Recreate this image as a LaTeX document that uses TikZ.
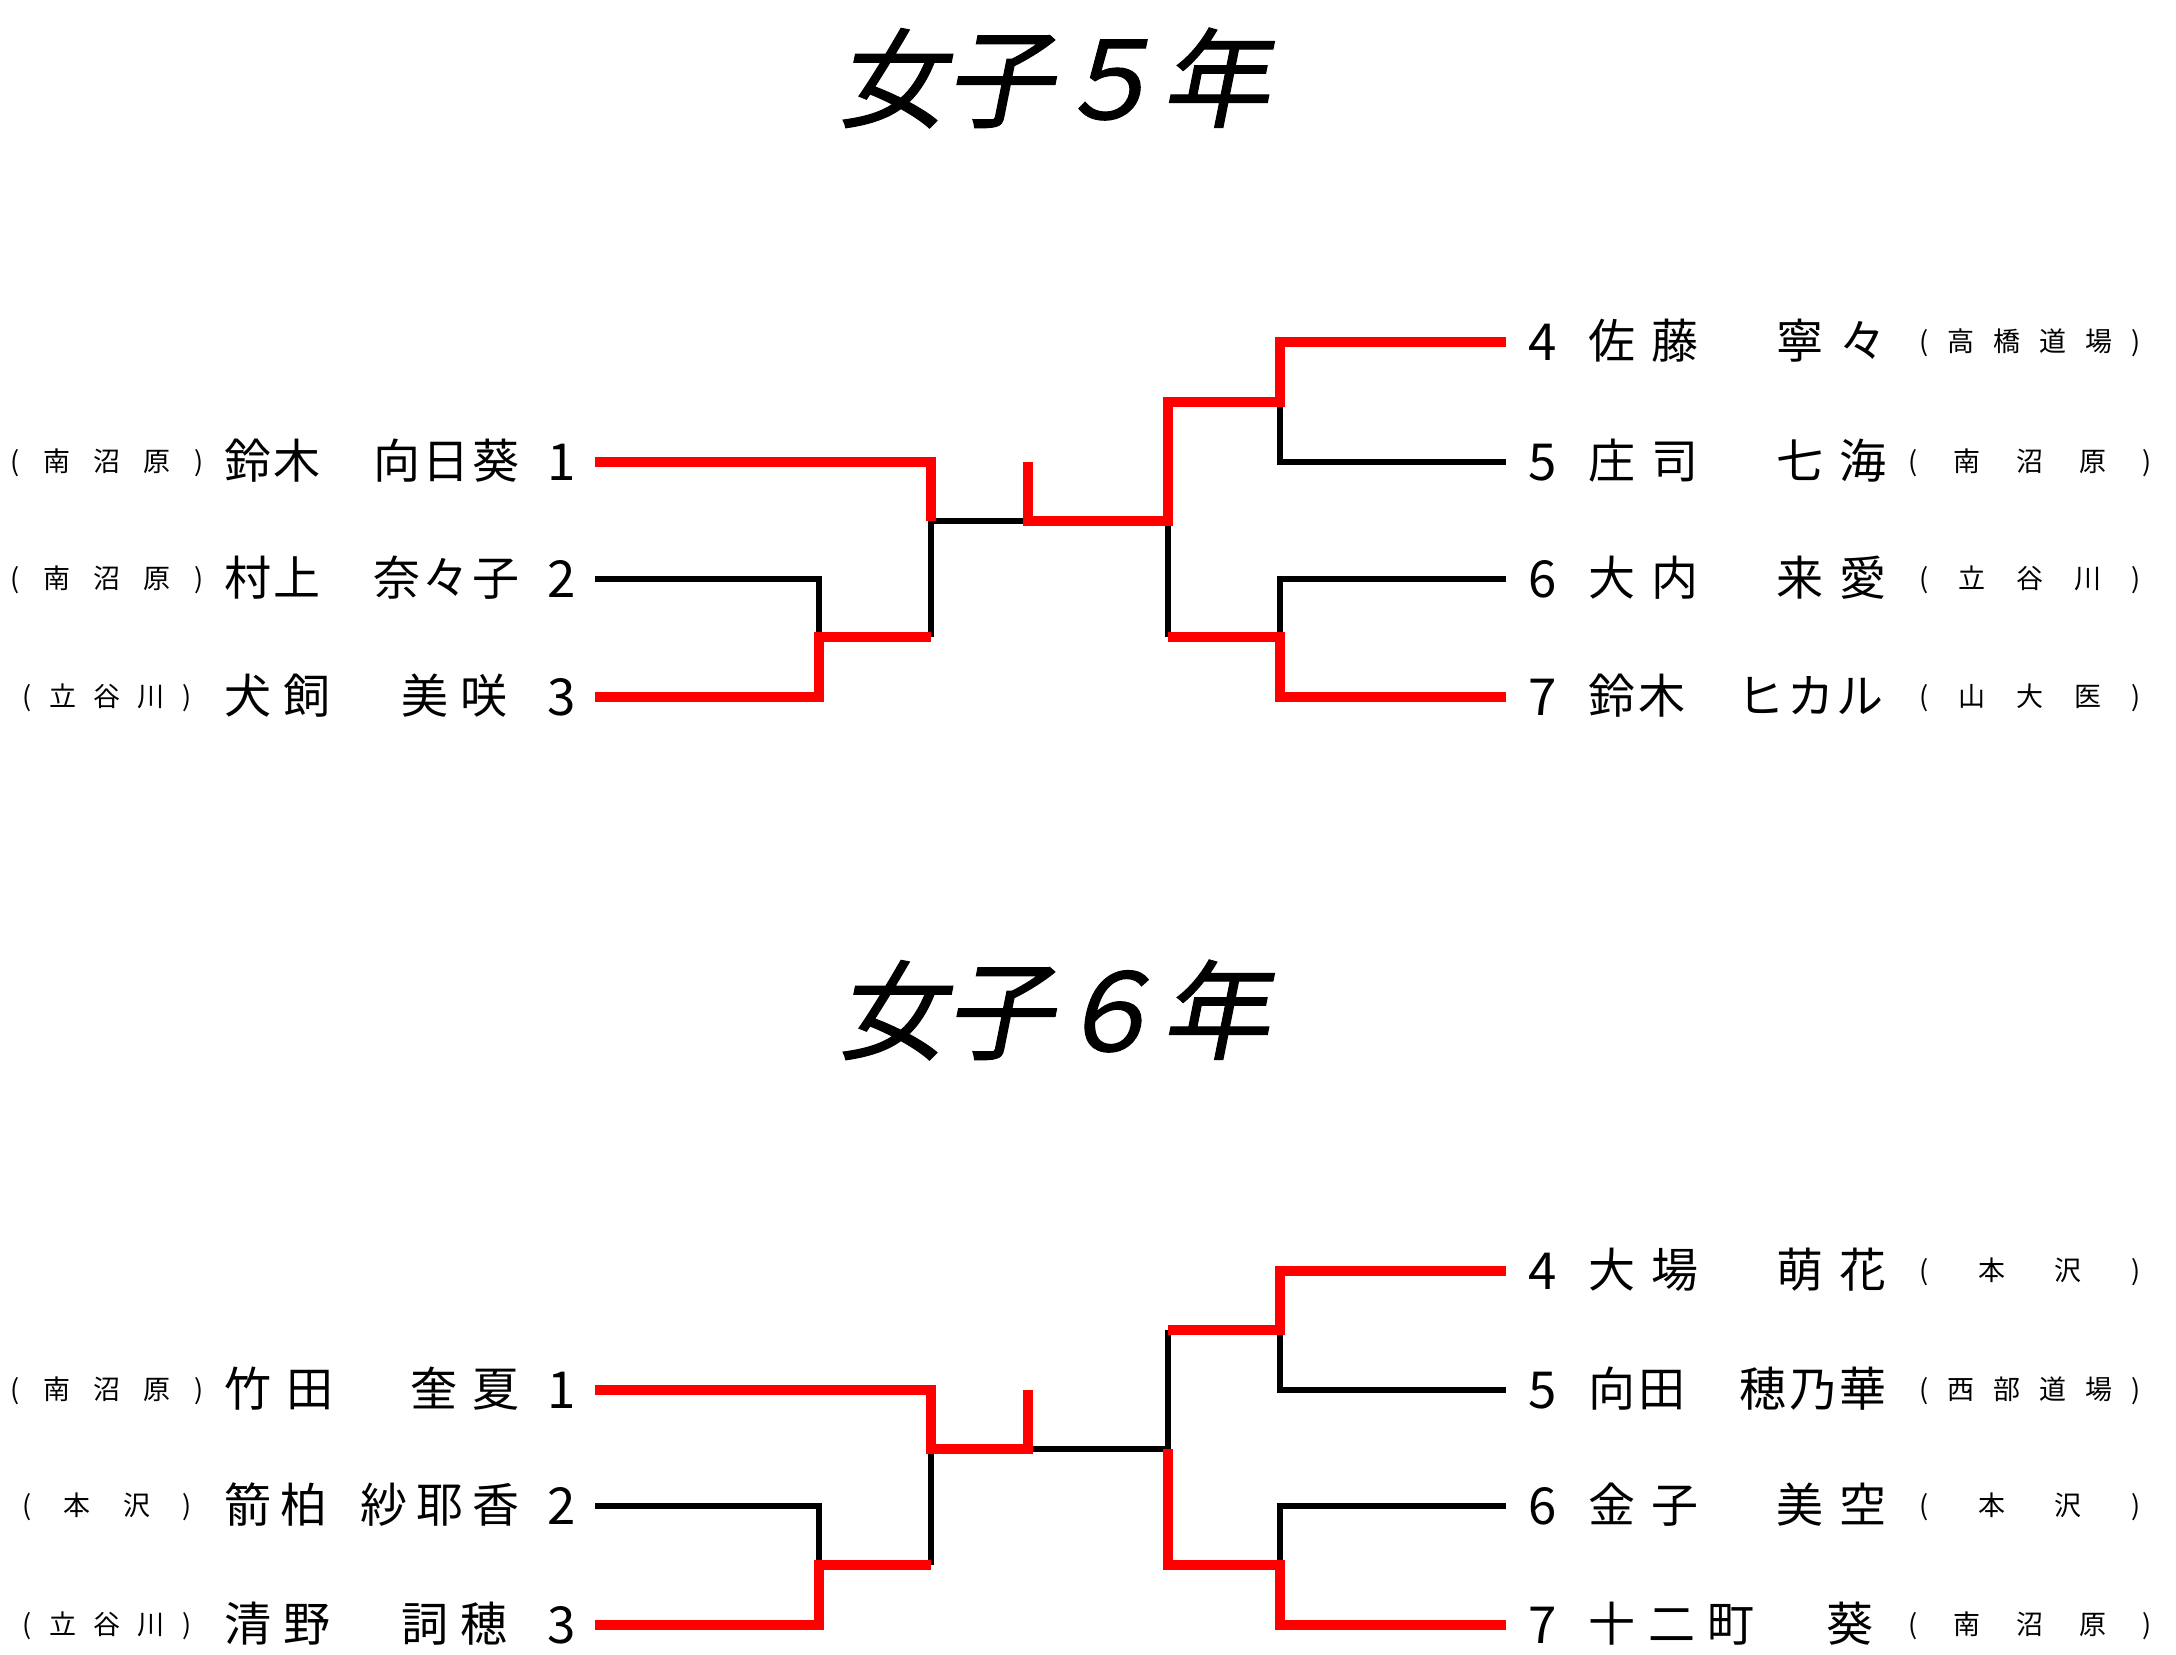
\documentclass[tikz,border=0pt]{standalone}
\usepackage{fontspec}
\setmainfont{Noto Sans CJK JP}
\newfontfamily\ttlfont[FakeSlant=0.2,FakeBold=1]{Noto Sans CJK JP}
\newlength\px
\setlength\px{0.5pt}
\newcommand\namefont{\fontsize{23.5}{24}\selectfont}
\newcommand\numfont{\fontsize{25.5}{26}\selectfont}
\newcommand\schfont{\fontsize{13.5}{14}\selectfont}
% spread the characters evenly over a given width
\newcommand\spread[2]{\makebox[#1][s]{\spaceskip=0pt plus 1fil\relax #2}}

\begin{document}
\begin{tikzpicture}[x=0.5pt, y=-0.5pt,
    win/.style={red, line width=4.75pt},
    lose/.style={black, line width=2.6pt},
    ttl/.style={font=\ttlfont\fontsize{54}{54}\selectfont, inner sep=0pt},
    pname/.style={font=\namefont, inner sep=0pt, text height=18.8pt, text depth=1.9pt},
    pnum/.style={font=\numfont, inner sep=0pt, text height=18.8pt, text depth=0pt},
    pschool/.style={font=\schfont, inner sep=0pt, text height=10.8pt, text depth=1.1pt}]
    \fill[white] (0,0) rectangle (2176,1655);
    \useasboundingbox (0,0) rectangle (2176,1655);

    % titles
    \node[ttl] (t5) at (1053,78) {女子５年};
    \node[ttl] (t6) at (1053,1010) {女子６年};

    % 5年: left entries
    \foreach \i/\y/\sch/\sw/\nm in {
        1/462/{( 南 沼 原 )}/193/{鈴 木 　 向 日 葵},
        2/579/{( 南 沼 原 )}/193/{村 上 　 奈 々 子},
        3/697/{( 立 谷 川 )}/169/{犬 飼 　 美 咲}
    } {
        \node[pschool] (a-s\i) at (107,\y) {\spread{\sw\px}{\sch}};
        \node[pname, anchor=west] (a-n\i) at (224,\y) {\spread{295\px}{\nm}};
        \node[pnum] (a-k\i) at (562,\y) {\i};
    }
    % 5年: right entries
    \foreach \i/\y/\sch/\sw/\nm in {
        4/342/{( 高 橋 道 場 )}/222/{佐 藤 　 寧 々},
        5/462/{( 南 沼 原 )}/244/{庄 司 　 七 海},
        6/579/{( 立 谷 川 )}/222/{大 内 　 来 愛},
        7/697/{( 山 大 医 )}/222/{鈴 木 　 ヒ カ ル}
    } {
        \node[pnum] (a-k\i) at (1543,\y) {\i};
        \node[pname, anchor=west] (a-n\i) at (1588,\y) {\spread{298\px}{\nm}};
        \node[pschool] (a-s\i) at (2030,\y) {\spread{\sw\px}{\sch}};
    }

    % 5年: bracket points
    \coordinate (a1) at (595,462);
    \coordinate (a2) at (595,579);
    \coordinate (a3) at (595,697);
    \coordinate (a4) at (1506,342);
    \coordinate (a5) at (1506,462);
    \coordinate (a6) at (1506,579);
    \coordinate (a7) at (1506,697);
    \coordinate (aL) at (819,637);
    \coordinate (aM) at (931,521);
    \coordinate (aS) at (1028,462);
    \coordinate (aC) at (1028,521);
    \coordinate (aN) at (1168,521);
    \coordinate (aU) at (1280,402);
    \coordinate (aD) at (1280,637);

    % 5年: lines
    \draw[lose] (a2) -| (aL);
    \draw[lose] (aL -| aM) -- (aM) -- (aC);
    \draw[lose] (aU) |- (a5);
    \draw[lose] (aN) -- (aN |- aD);
    \draw[lose] (aD) |- (a6);
    \draw[win] (a1) -| (aM);
    \draw[win] (a3) -| (aL) -- (aL -| aM);
    \draw[win] (aS) -- (aC) -- (aN) |- (aU) |- (a4);
    \draw[win] (aN |- aD) -- (aD) |- (a7);

    % 6年: left entries
    \foreach \i/\y/\sch/\sw/\nm in {
        1/1390/{( 南 沼 原 )}/193/{竹 田 　 奎 夏},
        2/1506/{( 本 沢 )}/169/{箭 柏 \hspace{0.5em}紗 耶 香},
        3/1625/{( 立 谷 川 )}/169/{清 野 　 詞 穂}
    } {
        \node[pschool] (b-s\i) at (107,\y) {\spread{\sw\px}{\sch}};
        \node[pname, anchor=west] (b-n\i) at (224,\y) {\spread{295\px}{\nm}};
        \node[pnum] (b-k\i) at (562,\y) {\i};
    }
    % 6年: right entries
    \foreach \i/\y/\sch/\sw/\nm in {
        4/1271/{( 本 沢 )}/222/{大 場 　 萌 花},
        5/1390/{( 西 部 道 場 )}/222/{向 田 　 穂 乃 華},
        6/1506/{( 本 沢 )}/222/{金 子 　 美 空},
        7/1625/{( 南 沼 原 )}/244/{十 二 町 　 葵}
    } {
        \node[pnum] (b-k\i) at (1543,\y) {\i};
        \node[pname, anchor=west] (b-n\i) at (1588,\y) {\spread{298\px}{\nm}};
        \node[pschool] (b-s\i) at (2030,\y) {\spread{\sw\px}{\sch}};
    }

    % 6年: bracket points
    \coordinate (b1) at (595,1390);
    \coordinate (b2) at (595,1506);
    \coordinate (b3) at (595,1625);
    \coordinate (b4) at (1506,1271);
    \coordinate (b5) at (1506,1390);
    \coordinate (b6) at (1506,1506);
    \coordinate (b7) at (1506,1625);
    \coordinate (bL) at (819,1565);
    \coordinate (bM) at (931,1449);
    \coordinate (bS) at (1028,1390);
    \coordinate (bC) at (1028,1449);
    \coordinate (bN) at (1168,1449);
    \coordinate (bU) at (1280,1330);
    \coordinate (bD) at (1280,1565);

    % 6年: lines
    \draw[lose] (b2) -| (bL);
    \draw[lose] (bL -| bM) -- (bM);
    \draw[lose] (bC) -- (bN);
    \draw[lose] (bU -| bN) -- (bN);
    \draw[lose] (bU) |- (b5);
    \draw[lose] (bD) |- (b6);
    \draw[win] (b1) -| (bM) -- (bC) -- (bS);
    \draw[win] (b3) -| (bL) -- (bL -| bM);
    \draw[win] (b4) -| (bU) -- (bU -| bN);
    \draw[win] (bN) |- (bD) |- (b7);
\end{tikzpicture}
\end{document}
